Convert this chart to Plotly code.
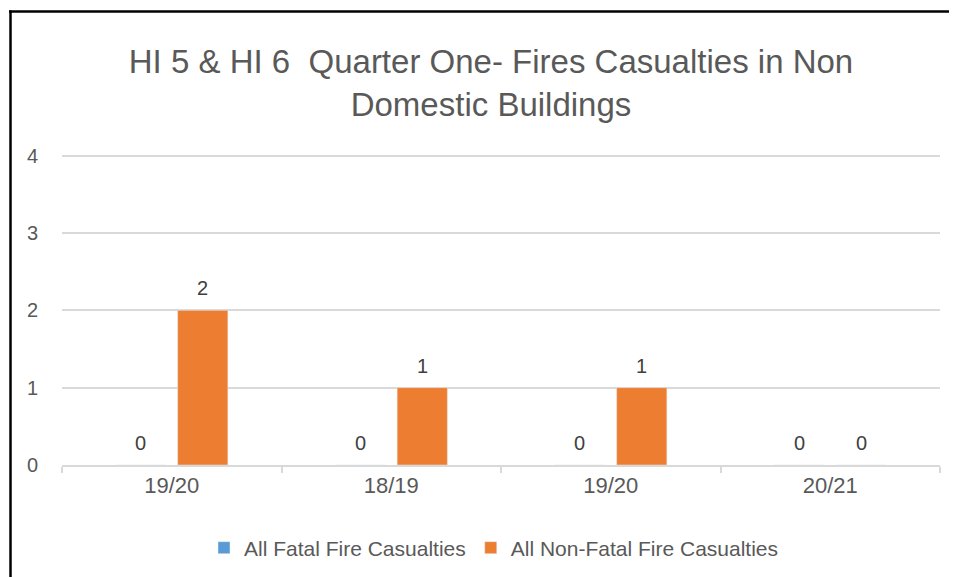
import numpy as np
import plotly.graph_objects as go

# ---- data ----
categories = ["19/20", "18/19", "19/20", "20/21"]
fatal = [0, 0, 0, 0]
non_fatal = [2, 1, 1, 0]
series_names = ["All Fatal Fire Casualties", "All Non-Fatal Fire Casualties"]
title_text = "HI 5 & HI 6  Quarter One- Fires Casualties in Non<br>Domestic Buildings"
y_ticks = [0, 1, 2, 3, 4]
y_max = 4.06

# page body has an 8px margin; work in page pixels and convert
OFF = 8
unit = (465 - 156) / 4.0
top_px = 465 - y_max * unit
W, H = 957 - OFF, 577 - OFF
L, R, T, B = 62 - OFF, 17, top_px - OFF, 112
pw, ph = W - L - R, H - T - B
BARGAP = 0.435

x = np.arange(len(categories))
FONT = "Liberation Sans"
TXT = "#595959"
colors = ["#5B9BD5", "#ED7D31"]
series_values = [fatal, non_fatal]

fig = go.Figure()
for name, vals, col in zip(series_names, series_values, colors):
    fig.add_bar(x=x, y=vals, name=name, marker_color=col)

# data labels: centred on each bar of the group, placed just above its value
cat_px = pw / len(categories)
slot_px = cat_px * (1 - BARGAP) / len(series_values)
annotations = []
for j, vals in enumerate(series_values):
    shift = (j - (len(series_values) - 1) / 2) * slot_px
    for xi, v in zip(x, vals):
        annotations.append(dict(x=xi, y=v, xref="x", yref="y", text=str(v),
                                showarrow=False, xshift=shift, yshift=22,
                                yanchor="middle",
                                font=dict(size=20, color="#404040", family=FONT)))

def px_x(p):  # page pixel -> paper x
    return (p - OFF - L) / pw

def px_y(p):  # page pixel -> paper y
    return (H - B - (p - OFF)) / ph

shapes = [
    dict(type="line", xref="paper", yref="paper", x0=px_x(9), x1=px_x(970),
         y0=px_y(12), y1=px_y(12), line=dict(color="black", width=2.5)),
    dict(type="line", xref="paper", yref="paper", x0=px_x(10.5), x1=px_x(10.5),
         y0=px_y(11), y1=px_y(590), line=dict(color="black", width=2.5)),
]

fig.update_layout(
    width=W, height=H,
    margin=dict(l=L, r=R, t=T, b=B, autoexpand=False),
    paper_bgcolor="white", plot_bgcolor="white",
    barmode="group", bargap=BARGAP, bargroupgap=0.19,
    font=dict(family=FONT, color=TXT),
    title=dict(text=title_text, xref="container", yref="container",
               x=(491 - OFF) / W, xanchor="center", y=1 - (73 - OFF) / H, yanchor="top",
               font=dict(size=33, color=TXT, family=FONT)),
    legend=dict(orientation="h", xref="container", yref="container",
                x=(494 - OFF) / W, xanchor="center", y=1 - (548 - OFF) / H, yanchor="middle",
                font=dict(size=21, color=TXT, family=FONT),
                itemwidth=30, traceorder="normal"),
    xaxis=dict(range=[-0.5, len(categories) - 0.5], tickvals=x, ticktext=categories,
               showgrid=False, zeroline=False, showline=True, linecolor="#D9D9D9",
               linewidth=1.5, ticks="", tickfont=dict(size=22, color=TXT),
               minor=dict(tickvals=np.arange(len(categories) + 1) - 0.5,
                          ticks="outside", ticklen=6, tickcolor="#D9D9D9",
                          tickwidth=1.5, showgrid=False),
               fixedrange=True),
    yaxis=dict(range=[0, y_max], tickvals=y_ticks, showgrid=True, gridcolor="#D9D9D9",
               gridwidth=1.5, zeroline=False, showline=False,
               tickfont=dict(size=20, color=TXT), ticklabelstandoff=23,
               fixedrange=True),
    shapes=shapes,
    annotations=annotations,
)

fig.write_html("out.html")
